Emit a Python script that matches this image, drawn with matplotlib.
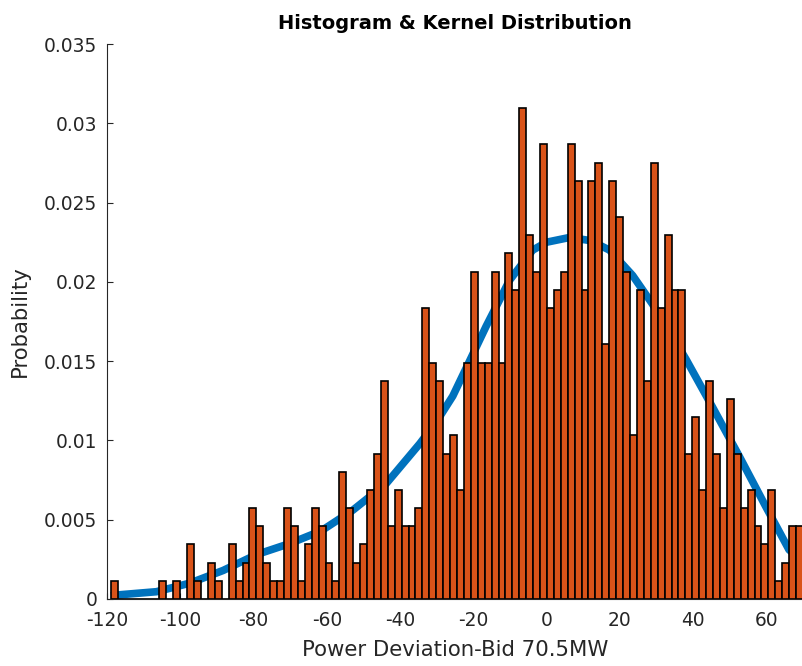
import numpy as np
import matplotlib
matplotlib.use("Agg")
import matplotlib.pyplot as plt

# histogram counts per bin (100 equal bins between the sample min and max)
bin_counts = [1, 0, 0, 0, 0, 0, 0, 1, 0, 1,
              0, 3, 1, 0, 2, 1, 0, 3, 1, 2,
              5, 4, 2, 1, 1, 5, 4, 1, 3, 5,
              4, 2, 1, 7, 5, 2, 3, 6, 8, 12,
              4, 6, 4, 4, 5, 16, 13, 12, 8, 9,
              6, 13, 18, 13, 13, 18, 13, 19, 17, 27,
              20, 18, 25, 16, 17, 18, 25, 23, 17, 23,
              24, 14, 23, 21, 18, 9, 17, 12, 24, 16,
              20, 17, 17, 8, 10, 6, 12, 8, 5, 11,
              8, 5, 6, 4, 3, 6, 1, 2, 4, 4]
data_min = -118.9
data_max = 70.0

# kernel density curve (scaled to bin probability)
kde_x = [-118.9, -117.4, -106.5, -97.4, -88.3, -79.2, -70.1, -61.5, -52.9,
         -43.7, -34.6, -30.0, -25.6, -20.0, -16.5, -10.1, -3.8, 0.0, 6.3, 12.0,
         17.2, 23.5, 28.9, 33.5, 38.1, 45.3, 52.6, 59.9, 66.2, 70.0]
kde_y = [0.0002, 0.00025, 0.00046, 0.0010, 0.0018, 0.0028, 0.0035, 0.0043, 0.0056,
         0.0073, 0.0098, 0.0112, 0.0128, 0.0155, 0.0172, 0.0201, 0.0220, 0.0225, 0.0228, 0.0226,
         0.0220, 0.0204, 0.0186, 0.0169, 0.0151, 0.0121, 0.0090, 0.0058, 0.0031, 0.0024]

x_ticks = [-120, -100, -80, -60, -40, -20, 0, 20, 40, 60]
y_ticks = [0, 0.005, 0.01, 0.015, 0.02, 0.025, 0.03, 0.035]
y_ticklabels = ['0', '0.005', '0.01', '0.015', '0.02', '0.025', '0.03', '0.035']

counts = np.array(bin_counts, dtype=float)
prob = counts / counts.sum()
edges = np.linspace(data_min, data_max, len(bin_counts) + 1)
width = edges[1] - edges[0]

plt.rcParams['font.family'] = 'DejaVu Sans'
plt.rcParams['axes.unicode_minus'] = False
fig = plt.figure(figsize=(8.03, 6.66), dpi=100)
ax = fig.add_axes([107 / 803, 67 / 666, 696 / 803, 555 / 666])

ax.plot(kde_x, kde_y, color='#0072BD', linewidth=5.5, solid_capstyle='butt',
        solid_joinstyle='round', zorder=1)
ax.bar(edges[:-1], prob, width=width, align='edge', color='#D95319',
       edgecolor='black', linewidth=1.2, zorder=2)

ax.set_xlim(-120, 70)
ax.set_ylim(0, 0.035)
ax.set_xticks(x_ticks)
ax.set_yticks(y_ticks)
ax.set_yticklabels(y_ticklabels)

for side in ['top', 'right']:
    ax.spines[side].set_visible(False)
for side in ['left', 'bottom']:
    ax.spines[side].set_linewidth(0.8)
    ax.spines[side].set_color('#262626')

ax.tick_params(axis='both', direction='in', length=4, width=0.8,
               colors='#262626', labelsize=13.4)
ax.tick_params(axis='x', pad=9)
ax.tick_params(axis='y', pad=7)

ax.set_title('Histogram & Kernel Distribution', fontsize=14, fontweight='bold',
             color='black', pad=11)
ax.set_xlabel('Power Deviation-Bid 70.5MW', fontsize=15.3, color='#262626', labelpad=7)
ax.set_ylabel('Probability', fontsize=15.3, color='#262626', labelpad=10)

fig.savefig('out.png', dpi=100)
